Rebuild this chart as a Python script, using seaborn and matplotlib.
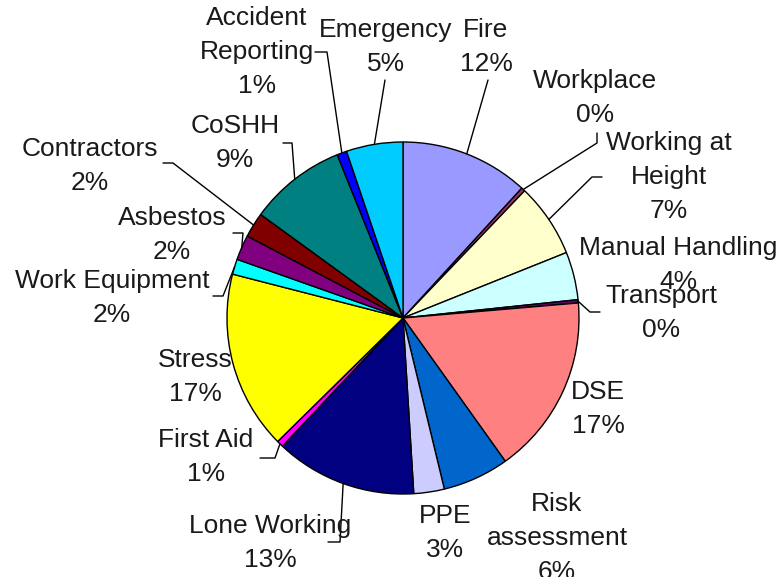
import numpy as np
import matplotlib
matplotlib.use("Agg")
import matplotlib.pyplot as plt
import seaborn as sns

# ---- data (clockwise from 12 o'clock) ----
categories = ["Fire", "Workplace", "Working at\nHeight", "Manual Handling", "Transport",
              "DSE", "Risk\nassessment", "PPE", "Lone Working", "First Aid", "Stress",
              "Work Equipment", "Asbestos", "Contractors", "CoSHH",
              "Accident\nReporting", "Emergency"]
shares = [11.8, 0.35, 6.8, 4.4, 0.3, 16.5, 6.1, 2.8, 13.0, 0.6, 16.4,
          1.4, 2.3, 2.3, 8.9, 0.9, 5.2]
pct_labels = ["12%", "0%", "7%", "4%", "0%", "17%", "6%", "3%", "13%", "1%", "17%",
              "2%", "2%", "2%", "9%", "1%", "5%"]
colors = ["#9999FF", "#993366", "#FFFFCC", "#CCFFFF", "#660066", "#FF8080", "#0066CC",
          "#CCCCFF", "#000080", "#FF00FF", "#FFFF00", "#00FFFF", "#800080", "#800000",
          "#008080", "#0000FF", "#00CCFF"]

# ---- layout (pixel coords, y down) ----
W, H = 784, 577
cx, cy, r = 403, 318, 176
label_pos = [(486, 47), (595, 98), (669, 177), (678, 265), (661, 313), (598, 409),
             (557, 538), (445, 533), (270, 543), (206, 457), (195, 377), (112, 298),
             (172, 235), (90, 166), (235, 143), (257, 52), (386, 47)]
# leader line points on the label side (None = no leader)
leaders = [[(488, 80)], [(597, 133), (597, 143)], [(602, 177), (592, 177)], None,
           [(600, 312), (590, 312)], None, None, None, [(328, 542), (340, 542)],
           [(260, 458), (275, 458)], None, [(213, 296), (223, 296)],
           [(233, 233), (243, 233)], [(163, 163), (173, 163)],
           [(283, 143), (292, 143)], [(315, 52), (327, 52)], [(385, 80)]]

sns.set_style("white")
plt.rcParams["font.family"] = ["Liberation Sans", "DejaVu Sans"]

fig = plt.figure(figsize=(W / 100, H / 100), dpi=100)
ax = fig.add_axes([0, 0, 1, 1])
ax.pie(shares, colors=colors, startangle=90, counterclock=False,
       center=(cx, H - cy), radius=r,
       wedgeprops=dict(edgecolor="black", linewidth=1.0))
ax.set_xlim(0, W)
ax.set_ylim(0, H)
ax.set_aspect("equal")
ax.axis("off")

total = sum(shares)
cum = np.cumsum(shares) - np.array(shares) / 2
for i, (name, pct) in enumerate(zip(categories, pct_labels)):
    x, y = label_pos[i]
    ax.text(x, H - y, name + "\n" + pct, ha="center", va="center",
            fontsize=19, color="#1a1a1a", linespacing=1.52)
    if leaders[i] is not None:
        ang = np.deg2rad(360 * cum[i] / total)
        ex, ey = cx + r * np.sin(ang), cy - r * np.cos(ang)
        pts = leaders[i] + [(ex, ey)]
        ax.plot([p[0] for p in pts], [H - p[1] for p in pts], color="black", lw=1.0)

fig.savefig("out.png", dpi=100)
